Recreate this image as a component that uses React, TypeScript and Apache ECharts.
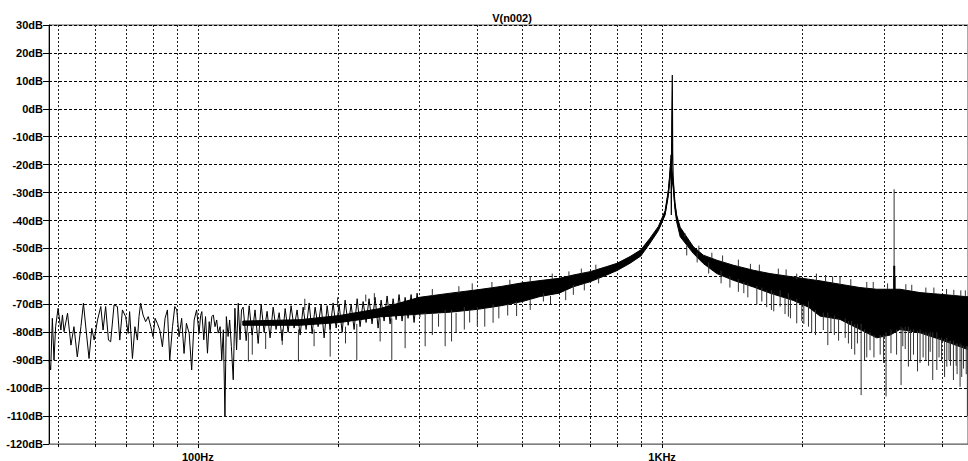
import React, { useEffect, useRef } from "react";
import * as echarts from "echarts";

const TITLE = "V(n002)";
const X_MIN = 47.8;
const X_MAX = 4560;
const Y_MIN = -120;
const Y_MAX = 30;
const Y_STEP = 10;

// vertical grid positions (Hz)
const gridFreqs = [50, 60, 70, 80, 90, 100, 200, 300, 400, 500, 600, 700, 800, 900, 1000, 2000, 3000, 4000];
// labelled x ticks
const xLabelFreqs = [100, 1000];
const xLabelTexts = ["100Hz", "1KHz"];

// sparse low-frequency part of the spectrum [Hz, dB]
const lowTrace: [number, number][] = [
  [47.8, -90], [48.2, -93.5], [48.6, -75], [49.0, -90], [49.4, -78], [50.0, -71.4], [50.7, -79.2],
  [51.1, -73.8], [51.5, -79.8], [52.4, -73.2], [53.3, -84.6], [54.1, -78], [55.0, -88.8], [56.0, -78],
  [56.7, -69.6], [57.6, -81], [58.3, -89.4], [59.1, -78.6], [59.8, -82.8], [60.8, -75.6], [61.8, -70.8],
  [62.5, -79.2], [63.3, -70.8], [64.2, -82.8], [64.9, -83.4], [66.0, -70.2], [67.1, -70.8], [67.9, -82.8],
  [68.8, -72], [69.9, -74.4], [70.8, -80.4], [71.3, -72.6], [72.3, -89.4], [73.2, -78], [74.1, -82.8],
  [74.7, -74.4], [75.3, -69.6], [76.2, -73.8], [77.2, -76.2], [78.2, -74.4], [79.2, -78], [80.1, -81.6],
  [80.9, -75], [81.8, -76.8], [82.8, -79.2], [83.9, -85.2], [85.0, -75], [86.0, -72], [87.0, -90],
  [88.2, -78], [89.2, -70.8], [90.1, -72], [91.1, -81.6], [92.3, -75], [93.4, -87.6], [94.5, -76.8],
  [95.8, -80.4], [97.0, -93.5], [98.2, -75.6], [99.4, -72], [100.6, -80.4], [101.4, -74], [102.0, -72.6],
  [103.0, -82.7], [103.9, -74.4], [104.9, -87.5], [105.8, -76.2], [106.3, -80.3], [107.2, -74.4],
  [108.0, -73.8], [108.9, -78], [109.8, -75.6], [110.6, -80.3], [111.7, -78], [112.6, -89.9], [113.5, -79.1],
  [114.4, -110], [115.2, -74.4], [116.2, -81.5], [117.1, -75.6], [118.1, -85.1], [119.2, -97], [120.2, -71.4],
  [121.2, -86.3], [122.2, -69.6], [123.3, -82.7], [124.2, -72]
];

// start of the dense region, 125–300 Hz [Hz, dB]
const midTrace: [number, number][] = [
  [125.2, -71], [127.1, -83], [129.0, -70.5], [130.9, -81], [132.8, -72], [134.9, -84], [136.9, -70],
  [138.9, -80], [141.0, -72.5], [143.1, -82], [145.3, -71], [147.4, -79], [149.7, -73], [151.9, -83],
  [154.2, -71.5], [156.5, -80], [158.8, -70.5], [161.2, -78.5], [163.6, -72], [166.1, -81], [168.6, -71],
  [171.1, -79], [173.7, -69.5], [176.3, -80.5], [178.9, -71], [181.6, -78], [184.3, -70], [187.1, -82],
  [189.9, -70.5], [192.7, -79], [195.6, -69.5], [198.6, -78.5], [201.5, -70], [204.6, -80], [207.6, -68.5],
  [210.8, -77.5], [213.9, -70], [217.1, -79], [220.4, -68], [223.6, -78], [227.0, -69], [230.4, -76.5],
  [233.8, -68], [237.3, -77], [240.9, -67.5], [244.5, -78.5], [248.2, -68.5], [251.9, -76], [255.7, -67],
  [259.5, -77], [263.4, -68], [267.4, -75.5], [271.3, -66.5], [275.4, -76], [279.6, -67.5], [283.7, -75],
  [288.0, -66.5], [292.3, -76.5], [296.7, -66], [301.1, -74.5]
];

// fundamental peak [Hz, dB]
const peakTrace: [number, number][] = [
  [982, -42.8], [1000, -40.5], [1015, -37.5], [1025, -33], [1032, -29.5], [1038, -25], [1042, -21],
  [1045, -16.5], [1047, -38], [1049, -5], [1052, 12.1], [1054, -16], [1057, -26], [1061, -31],
  [1066, -34.5], [1075, -38.8], [1085, -41.5], [1094, -43.8]
];

// dense noise band core: [Hz, upper dB, lower dB]
const bandKnots: [number, number, number][] = [
  [125, -76, -77.5], [166, -75.5, -77.5], [202, -74, -76.5], [247, -71.5, -74.5],
  [300, -67.5, -73.5], [350, -66, -72.8], [400, -64.8, -71.8], [450, -63.6, -70.5], [500, -62.3, -69],
  [546, -61.5, -67.2], [600, -60.7, -66], [644, -59.5, -63.7], [700, -58.3, -61.9], [760, -56.5, -59.5],
  [800, -55.3, -57.9], [853, -52.9, -55.3], [900, -50.5, -52.7], [942, -46.3, -48.1], [982, -42.1, -43.6],
  [1015, -36.5, -38], [1032, -29, -31], [1044, -19, -22], [1058, -26, -29], [1066, -33.5, -36],
  [1075, -38, -40.5], [1094, -42.4, -45.8], [1168, -49.4, -51.8], [1227, -52.4, -55.4], [1312, -54.2, -59],
  [1424, -56, -61.4], [1573, -57.8, -63.8], [1708, -59, -66], [1918, -60.2, -68.6], [2067, -61, -71],
  [2189, -61.6, -74.2], [2417, -62.8, -75.4], [2669, -64, -79], [2899, -64.6, -82], [3100, -64.6, -81],
  [3254, -64.6, -79], [3595, -65.8, -80.2], [3971, -66.4, -82.6], [4560, -67.3, -86.2]
];

// excursions out of the band: [Hz, from dB, to dB]
const spikes: [number, number, number][] = [
  // low side, 125–750 Hz
  [128.5, -80, -90.5], [131, -80, -88], [140, -80, -86], [152, -79, -84.5], [164.7, -79, -90.5],
  [178, -79, -85], [192.8, -78, -88.7], [208, -78, -84], [220, -77, -89.9], [247, -75, -83.3],
  [261.7, -75, -89.9], [279.6, -74, -85.7], [308.8, -73, -85], [320, -73, -81], [330, -73.5, -78],
  [341, -72, -85], [352, -72, -83.3], [360, -73, -80], [375, -71, -79], [385, -72, -76.5],
  [400, -71, -77.8], [415, -71.5, -78], [432.5, -70, -76.6], [445, -70.5, -75], [465, -70, -74],
  [486, -69, -74.2], [520, -68.5, -72], [555, -66, -69], [575, -67, -70], [620, -65, -68.5],
  [644, -63, -66.6], [680, -62.5, -65], [730, -60.5, -62.5],
  // high side, 125–750 Hz
  [170, -72, -68], [200, -71, -67.5], [230, -69, -66.5], [240, -68.5, -66], [320, -67, -64.5],
  [365, -66, -63.5], [390, -65, -62.5], [430, -64, -62], [470, -63, -61.2], [520, -62, -60],
  [580, -61, -59], [630, -60, -58.2], [670, -59, -57.2], [720, -57.5, -55.8],
  // high side above 1.1 kHz
  [1120, -46, -44.5], [1200, -51, -49], [1280, -53.5, -51.5], [1350, -55, -52.5], [1460, -56.5, -54],
  [1550, -57.5, -55.5], [1620, -58.2, -55.8], [1780, -59.5, -57.2], [1850, -60, -57.5], [1950, -61, -59],
  [2150, -61.5, -59], [2250, -62, -59.5], [2330, -62.5, -60], [2417, -63, -60], [2550, -63.5, -61],
  [2760, -64.2, -62], [2850, -64.5, -62], [3060, -64.5, -62.5], [3350, -65, -62.8], [3450, -65.2, -63],
  [3700, -66, -64], [3850, -66.2, -64], [4100, -66.7, -64.5], [4250, -67, -64.8], [4400, -67, -65],
  [4500, -67.2, -65],
  // low side above 1.1 kHz
  [1130, -49, -52.5], [1190, -51.5, -55], [1260, -55, -59], [1340, -58, -62.5], [1400, -60, -64],
  [1460, -61, -65.5], [1500, -62, -66], [1530, -62.5, -67.5], [1600, -63.5, -70], [1640, -64, -69],
  [1680, -65, -71], [1720, -65, -72], [1740, -66, -72.5], [1796, -65, -70.8], [1840, -67.5, -73.5],
  [1871, -66, -74.4], [1890, -68, -75], [1950, -68, -76.8], [2000, -70, -76], [2020, -70, -77],
  [2067, -69, -78], [2100, -72, -80], [2140, -72, -81], [2225, -73, -79.2], [2275, -73, -84.6],
  [2310, -74.5, -80], [2350, -74, -81], [2400, -75, -83], [2480, -75, -82], [2520, -76, -84],
  [2560, -76, -86], [2600, -77, -88], [2635, -77, -84], [2684, -77, -102.5], [2730, -79, -90],
  [2760, -80, -89], [2805, -80, -86.4], [2860, -81, -89], [2950, -81, -88], [3000, -81, -91],
  [3037, -80, -103], [3112, -79, -87.5], [3200, -79, -88], [3272, -78, -98.9], [3300, -78.5, -85],
  [3340, -78, -86], [3393, -78, -92.3], [3430, -79, -90], [3480, -79, -88], [3550, -79.5, -94],
  [3595, -79, -91], [3650, -80, -89], [3700, -80, -90], [3750, -80.5, -92], [3780, -80, -87],
  [3828, -80, -97.1], [3907, -80, -93.5], [3950, -82, -89], [4000, -82, -90], [4060, -82.5, -96],
  [4105, -82, -92.3], [4150, -83, -90], [4180, -83, -92], [4242, -83, -97.1], [4300, -84, -92],
  [4320, -84, -95], [4384, -84, -99.5], [4420, -84.5, -96], [4460, -85, -93], [4520, -85, -95],
  [4546, -85, -110],
  // third harmonic
  [3161, -64, -28.8]
];
// third harmonic base bump [Hz, from dB, to dB]
const harmonicBump: [number, number, number][] = [[3163, -66, -56.2], [3168, -66, -60]];

const FONT = '"Liberation Sans", Arial, sans-serif';

export default function App() {
  const ref = useRef<HTMLDivElement>(null);
  useEffect(() => {
    if (!ref.current) return;
    const chart = echarts.init(ref.current, null, { renderer: "svg" });
    const crisp = (v: number) => Math.round(v) + 0.5;

    chart.setOption({
      animation: false,
      backgroundColor: "#ffffff",
      graphic: [
        {
          type: "text",
          x: 512,
          y: 18,
          style: {
            text: TITLE,
            align: "center",
            verticalAlign: "middle",
            font: `bold 11px ${FONT}`,
            fill: "#000"
          }
        }
      ],
      grid: { left: 49, top: 25, right: 0, bottom: 17, show: true, borderColor: "#555", borderWidth: 1 },
      xAxis: {
        type: "log",
        logBase: 10,
        min: X_MIN,
        max: X_MAX,
        axisLine: { show: true, onZero: false, lineStyle: { color: "#808080" } },
        axisTick: { show: false },
        axisLabel: { show: false },
        splitLine: { show: false }
      },
      yAxis: {
        type: "value",
        min: Y_MIN,
        max: Y_MAX,
        interval: Y_STEP,
        axisLine: { show: true, onZero: false, lineStyle: { color: "#000" } },
        axisTick: { show: true, length: 6, lineStyle: { color: "#000" } },
        axisLabel: {
          formatter: (v: number) => `${v}dB`,
          color: "#000",
          fontWeight: "bold",
          fontSize: 11,
          fontFamily: FONT,
          margin: 6
        },
        splitLine: { show: true, lineStyle: { color: "#000", type: [3, 2], width: 1 } }
      },
      series: [
        {
          type: "custom",
          name: "vgrid",
          z: 1,
          silent: true,
          clip: false,
          encode: { x: 0, y: 1 },
          data: gridFreqs.map((f) => [f, Y_MIN]),
          renderItem: (params: any, api: any) => {
            const f = api.value(0);
            const p0 = api.coord([f, Y_MAX]);
            const p1 = api.coord([f, Y_MIN]);
            const x = crisp(p0[0]);
            const isLabel = xLabelFreqs.indexOf(f) >= 0;
            return {
              type: "group",
              children: [
                {
                  type: "line",
                  shape: { x1: x, y1: p0[1], x2: x, y2: p1[1] },
                  style: { stroke: "#222", lineWidth: 1, lineDash: [2, 2] }
                },
                {
                  type: "line",
                  shape: { x1: x, y1: p1[1], x2: x, y2: p1[1] + (isLabel ? 4 : 3) },
                  style: { stroke: "#000", lineWidth: 1 }
                }
              ]
            };
          }
        },
        {
          type: "custom",
          name: "xlabels",
          z: 2,
          silent: true,
          clip: false,
          encode: { x: 0, y: 1 },
          data: xLabelFreqs.map((f) => [f, Y_MIN]),
          renderItem: (params: any, api: any) => {
            const p = api.coord([api.value(0), Y_MIN]);
            return {
              type: "text",
              x: p[0],
              y: p[1] + 12.5,
              style: {
                text: xLabelTexts[params.dataIndex],
                align: "center",
                verticalAlign: "middle",
                font: `bold 11px ${FONT}`,
                fill: "#000"
              }
            };
          }
        },
        {
          type: "custom",
          name: "band",
          z: 3,
          silent: true,
          encode: { x: 0, y: 1 },
          data: [[bandKnots[0][0], bandKnots[0][1]]],
          renderItem: (params: any, api: any) => {
            const upper = bandKnots.map((k) => api.coord([k[0], k[1]]));
            const lower = bandKnots.map((k) => api.coord([k[0], k[2]])).reverse();
            return {
              type: "polygon",
              shape: { points: upper.concat(lower) },
              style: { fill: "#000", stroke: "#000", lineWidth: 1 }
            };
          }
        },
        {
          type: "custom",
          name: "spikes",
          z: 4,
          silent: true,
          encode: { x: 0, y: [1, 2] },
          data: spikes,
          renderItem: (params: any, api: any) => {
            const f = api.value(0);
            const a = api.coord([f, api.value(1)]);
            const b = api.coord([f, api.value(2)]);
            return {
              type: "line",
              shape: { x1: a[0], y1: a[1], x2: b[0], y2: b[1] },
              style: { stroke: "#333", lineWidth: 1 }
            };
          }
        },
        {
          type: "custom",
          name: "harmonic",
          z: 4,
          silent: true,
          encode: { x: 0, y: [1, 2] },
          data: harmonicBump,
          renderItem: (params: any, api: any) => {
            const f = api.value(0);
            const a = api.coord([f, api.value(1)]);
            const b = api.coord([f, api.value(2)]);
            return {
              type: "line",
              shape: { x1: a[0], y1: a[1], x2: b[0], y2: b[1] },
              style: { stroke: "#000", lineWidth: 2 }
            };
          }
        },
        {
          type: "line",
          name: "low",
          z: 5,
          silent: true,
          showSymbol: false,
          symbol: "none",
          data: lowTrace.concat(midTrace),
          lineStyle: { color: "#000", width: 1 }
        },
        {
          type: "line",
          name: "peak",
          z: 5,
          silent: true,
          showSymbol: false,
          symbol: "none",
          data: peakTrace,
          lineStyle: { color: "#000", width: 1.2 }
        }
      ]
    });
    return () => chart.dispose();
  }, []);

  return (
    <div
      ref={ref}
      style={{ position: "fixed", left: 0, top: 0, width: 968, height: 461, background: "#fff" }}
    />
  );
}
